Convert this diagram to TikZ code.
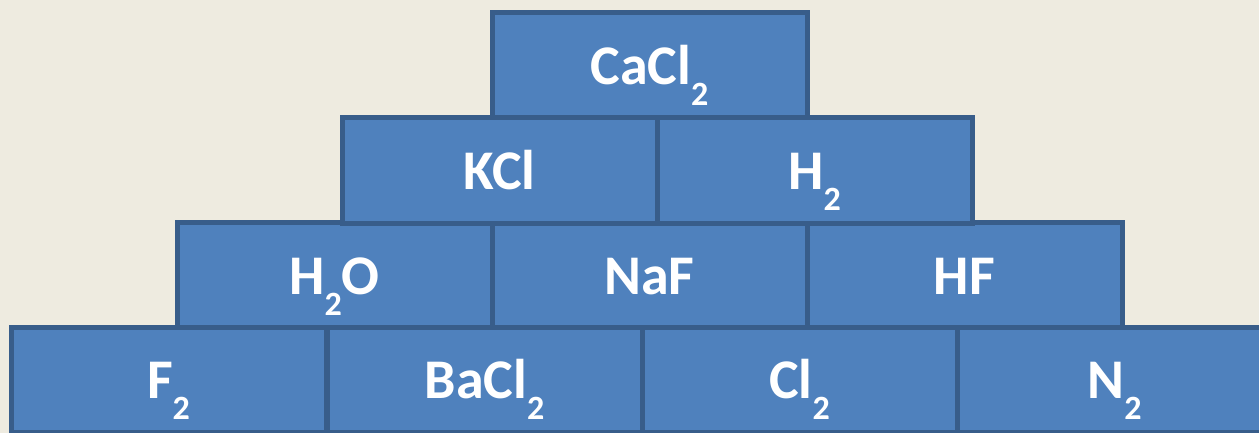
\documentclass[tikz,border=0pt]{standalone}
\usepackage{fontspec}
\setmainfont{Carlito}
\definecolor{paper}{HTML}{EEEBE0}
\definecolor{brickfill}{HTML}{4F81BD}
\definecolor{brickline}{HTML}{385D8A}
\newcommand{\chemsub}[1]{\raisebox{-21pt}[0pt][0pt]{\fontsize{34}{34}\selectfont #1}}

\begin{document}
\begin{tikzpicture}[x=1pt,y=-1pt,
    brick/.style={draw=brickline,fill=brickfill,line width=5pt,
      minimum width=315pt,minimum height=105pt,inner sep=0pt,outer sep=0pt,
      text=white,font=\fontsize{56}{56}\selectfont\bfseries,
      text height=38pt,text depth=0pt}]
    \useasboundingbox (0,0) rectangle (1259,433);
    \fill[paper] (0,0) rectangle (1259,433);
    \clip (0,0) rectangle (1259,433);

    % bottom row
    \foreach \x/\n/\t in {168.5/f2/F\chemsub{2},484.5/bacl2/BaCl\chemsub{2},799.5/cl2/Cl\chemsub{2},1114.5/n2/N\chemsub{2}} {
    \node[brick] (\n) at (\x,379.5) {\t};}

    % third row
    \foreach \x/\n/\t in {334.5/h2o/H\chemsub{2}O,649.5/naf/NaF,964.5/hf/HF} {
    \node[brick] (\n) at (\x,275) {\t};}

    % second row
    \foreach \x/\n/\t in {499.5/kcl/KCl,814.5/h2/H\chemsub{2}} {
    \node[brick] (\n) at (\x,170.5) {\t};}

    % top
    \node[brick] (cacl2) at (649.5,65.5) {CaCl\chemsub{2}};

\end{tikzpicture}
\end{document}
